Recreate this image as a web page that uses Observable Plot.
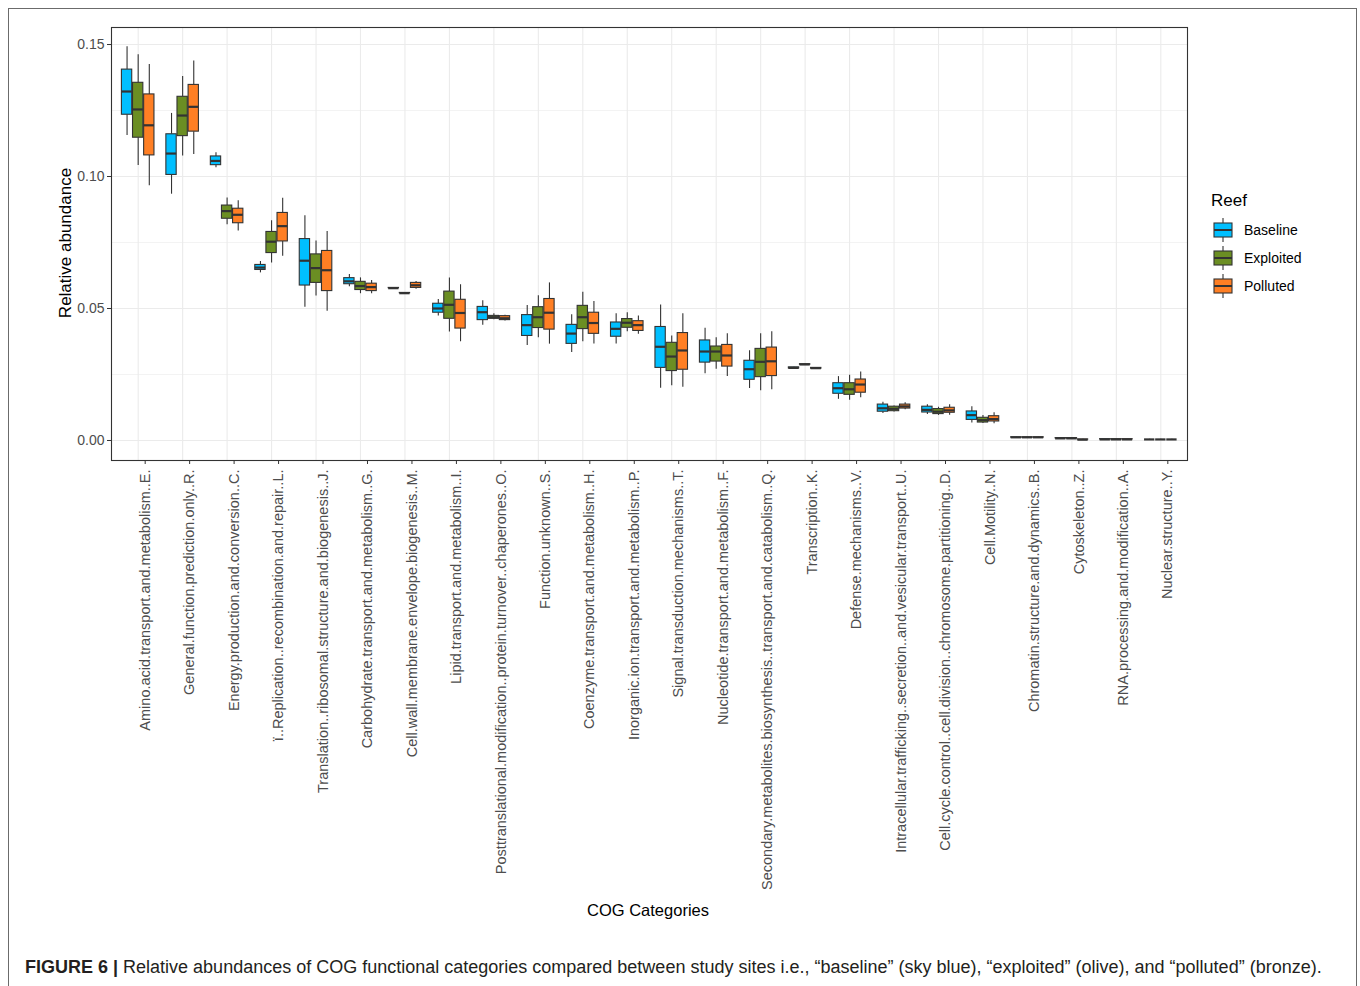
<!DOCTYPE html>
<html>
<head>
<meta charset="utf-8">
<script src="https://cdn.jsdelivr.net/npm/d3@7"></script>
<script src="https://cdn.jsdelivr.net/npm/@observablehq/plot@0.6"></script>
<style>
  body { margin: 0; background: #fff; font-family: "Liberation Sans", Arial, sans-serif; }
  #page { position: relative; width: 1360px; height: 986px; overflow: hidden; background: #fff; }
  #border { position: absolute; left: 8px; top: 8px; width: 1349px; height: 1200px; border: 1px solid #6b6b6b; box-sizing: border-box; }
  #chart { position: absolute; left: 0; top: 0; }
  .ylab { position: absolute; left: 66px; top: 243px; transform: translate(-50%, -50%) rotate(-90deg); white-space: nowrap; font-size: 17px; color: #000; }
  .xlab { position: absolute; left: 648px; top: 910px; transform: translate(-50%, -50%); white-space: nowrap; font-size: 16.5px; color: #000; }
  #legend { position: absolute; left: 1211px; top: 189px; }
  #legend .title { font-size: 17px; color: #000; height: 27px; line-height: 24px; }
  #legend .key { display: flex; align-items: center; height: 28px; }
  #legend .key svg { margin-left: 2px; margin-right: 11px; }
  #legend .key span { font-size: 14px; color: #000; }
  .caption { position: absolute; left: 25px; top: 957px; white-space: nowrap; font-size: 18px; color: #231f20; }
  .caption b { font-weight: bold; }
</style>
</head>
<body>
<div id="page">
  <div id="border"></div>
  <div id="chart"></div>
  <div class="ylab">Relative abundance</div>
  <div class="xlab">COG Categories</div>
  <div id="legend"></div>
  <div class="caption"><b>FIGURE 6 |</b> Relative abundances of COG functional categories compared between study sites i.e., “baseline” (sky blue), “exploited” (olive), and “polluted” (bronze).</div>
</div>
<script>
// COG functional categories, in plotting order
const categories = [
  "Amino.acid.transport.and.metabolism..E.",
  "General.function.prediction.only..R.",
  "Energy.production.and.conversion..C.",
  "ï..Replication..recombination.and.repair..L.",
  "Translation..ribosomal.structure.and.biogenesis..J.",
  "Carbohydrate.transport.and.metabolism..G.",
  "Cell.wall.membrane.envelope.biogenesis..M.",
  "Lipid.transport.and.metabolism..I.",
  "Posttranslational.modification..protein.turnover..chaperones..O.",
  "Function.unknown..S.",
  "Coenzyme.transport.and.metabolism..H.",
  "Inorganic.ion.transport.and.metabolism..P.",
  "Signal.transduction.mechanisms..T.",
  "Nucleotide.transport.and.metabolism..F.",
  "Secondary.metabolites.biosynthesis..transport.and.catabolism..Q.",
  "Transcription..K.",
  "Defense.mechanisms..V.",
  "Intracellular.trafficking..secretion..and.vesicular.transport..U.",
  "Cell.cycle.control..cell.division..chromosome.partitioning..D.",
  "Cell.Motility..N.",
  "Chromatin.structure.and.dynamics..B.",
  "Cytoskeleton..Z.",
  "RNA.processing.and.modification..A.",
  "Nuclear.structure..Y."
];

const reefs = ["Baseline", "Exploited", "Polluted"];
const reefColors = ["#00BFFF", "#6B8E23", "#FF7F24"];

// Box statistics per category: [lower whisker, Q1, median, Q3, upper whisker]
const baseline = [
  [0.1155, 0.1234, 0.1322, 0.1405, 0.1492],
  [0.0933, 0.1006, 0.1087, 0.1160, 0.1239],
  [0.1033, 0.1043, 0.1059, 0.1076, 0.1090],
  [0.0635, 0.0646, 0.0655, 0.0665, 0.0678],
  [0.0505, 0.0587, 0.0681, 0.0763, 0.0851],
  [0.0582, 0.0592, 0.0603, 0.0615, 0.0629],
  [0.0576, 0.0577, 0.0577, 0.0578, 0.0578],
  [0.0472, 0.0484, 0.0500, 0.0518, 0.0534],
  [0.0437, 0.0456, 0.0486, 0.0506, 0.0529],
  [0.0360, 0.0396, 0.0437, 0.0475, 0.0511],
  [0.0333, 0.0366, 0.0405, 0.0438, 0.0476],
  [0.0366, 0.0393, 0.0423, 0.0447, 0.0480],
  [0.0198, 0.0275, 0.0355, 0.0430, 0.0513],
  [0.0253, 0.0295, 0.0337, 0.0379, 0.0425],
  [0.0197, 0.0230, 0.0270, 0.0302, 0.0340],
  [0.0272, 0.0273, 0.0275, 0.0277, 0.0278],
  [0.0156, 0.0177, 0.0198, 0.0217, 0.0242],
  [0.0102, 0.0109, 0.0122, 0.0136, 0.0145],
  [0.0098, 0.0106, 0.0116, 0.0128, 0.0135],
  [0.0066, 0.0078, 0.0096, 0.0110, 0.0128],
  [0.0011, 0.0011, 0.0012, 0.0012, 0.0013],
  [0.0007, 0.0008, 0.0008, 0.0009, 0.0009],
  [0.0004, 0.0004, 0.0004, 0.0005, 0.0005],
  [0.0003, 0.0004, 0.0004, 0.0004, 0.0005]
];

const exploited = [
  [0.1042, 0.1147, 0.1254, 0.1355, 0.1461],
  [0.1078, 0.1153, 0.1231, 0.1302, 0.1379],
  [0.0817, 0.0840, 0.0869, 0.0890, 0.0919],
  [0.0672, 0.0710, 0.0753, 0.0790, 0.0832],
  [0.0547, 0.0597, 0.0653, 0.0705, 0.0756],
  [0.0556, 0.0570, 0.0585, 0.0601, 0.0616],
  [0.0557, 0.0558, 0.0558, 0.0559, 0.0559],
  [0.0411, 0.0461, 0.0514, 0.0564, 0.0616],
  [0.0457, 0.0461, 0.0467, 0.0472, 0.0480],
  [0.0389, 0.0426, 0.0467, 0.0505, 0.0548],
  [0.0374, 0.0422, 0.0467, 0.0510, 0.0562],
  [0.0412, 0.0427, 0.0446, 0.0460, 0.0484],
  [0.0207, 0.0263, 0.0318, 0.0370, 0.0396],
  [0.0270, 0.0299, 0.0337, 0.0356, 0.0389],
  [0.0188, 0.0240, 0.0298, 0.0347, 0.0404],
  [0.0286, 0.0287, 0.0288, 0.0289, 0.0290],
  [0.0152, 0.0173, 0.0194, 0.0217, 0.0247],
  [0.0108, 0.0111, 0.0120, 0.0128, 0.0131],
  [0.0095, 0.0100, 0.0109, 0.0119, 0.0126],
  [0.0064, 0.0068, 0.0077, 0.0086, 0.0095],
  [0.0011, 0.0011, 0.0012, 0.0012, 0.0013],
  [0.0006, 0.0007, 0.0008, 0.0009, 0.0010],
  [0.0004, 0.0004, 0.0004, 0.0005, 0.0005],
  [0.0003, 0.0004, 0.0004, 0.0004, 0.0005]
];

const polluted = [
  [0.0965, 0.1080, 0.1194, 0.1311, 0.1424],
  [0.1083, 0.1170, 0.1264, 0.1347, 0.1438],
  [0.0794, 0.0823, 0.0855, 0.0878, 0.0908],
  [0.0698, 0.0754, 0.0812, 0.0862, 0.0918],
  [0.0490, 0.0566, 0.0645, 0.0718, 0.0792],
  [0.0556, 0.0566, 0.0581, 0.0594, 0.0606],
  [0.0573, 0.0578, 0.0588, 0.0597, 0.0602],
  [0.0374, 0.0424, 0.0483, 0.0533, 0.0590],
  [0.0453, 0.0456, 0.0463, 0.0471, 0.0474],
  [0.0365, 0.0420, 0.0484, 0.0536, 0.0597],
  [0.0366, 0.0404, 0.0445, 0.0484, 0.0527],
  [0.0402, 0.0415, 0.0437, 0.0452, 0.0472],
  [0.0202, 0.0268, 0.0341, 0.0407, 0.0480],
  [0.0242, 0.0280, 0.0322, 0.0362, 0.0404],
  [0.0192, 0.0244, 0.0300, 0.0352, 0.0412],
  [0.0271, 0.0272, 0.0274, 0.0275, 0.0276],
  [0.0162, 0.0181, 0.0212, 0.0231, 0.0259],
  [0.0116, 0.0121, 0.0129, 0.0136, 0.0143],
  [0.0096, 0.0105, 0.0114, 0.0124, 0.0135],
  [0.0063, 0.0072, 0.0081, 0.0092, 0.0105],
  [0.0011, 0.0011, 0.0012, 0.0012, 0.0013],
  [0.0002, 0.0003, 0.0003, 0.0004, 0.0005],
  [0.0004, 0.0004, 0.0004, 0.0005, 0.0005],
  [0.0003, 0.0004, 0.0004, 0.0004, 0.0005]
];

const yTicks = [0, 0.05, 0.10, 0.15];
const yMinor = [0.025, 0.075, 0.125];

// Flatten into one row per category × reef, dodged within each category
const dodge = 0.25, halfBox = 0.116;
const series = [baseline, exploited, polluted];
const rows = [];
series.forEach((stats, r) => {
  stats.forEach(([lo, q1, med, q3, hi], i) => {
    const pos = i + 1 + (r - 1) * dodge;
    rows.push({reef: reefs[r], category: categories[i], pos, x1: pos - halfBox, x2: pos + halfBox, lo, q1, med, q3, hi});
  });
});

const catIndex = d3.range(1, categories.length + 1);
const ink = "#333333";
const grid = "#ebebeb";

const chart = Plot.plot({
  width: 1360,
  height: 900,
  marginTop: 27,
  marginLeft: 111,
  marginRight: 173,
  marginBottom: 440,
  style: {fontFamily: "'Liberation Sans', Arial, sans-serif", background: "transparent"},
  x: {domain: [0.4, categories.length + 0.6], axis: null},
  y: {domain: [-0.00758, 0.15645], axis: null},
  color: {domain: reefs, range: reefColors},
  marks: [
    // panel grid
    Plot.ruleY(yMinor, {stroke: grid, strokeWidth: 0.6}),
    Plot.ruleY(yTicks, {stroke: grid, strokeWidth: 1.1}),
    Plot.ruleX(catIndex, {stroke: grid, strokeWidth: 1.1}),
    // whiskers
    Plot.ruleX(rows, {x: "pos", y1: "lo", y2: "q1", stroke: ink, strokeWidth: 1.1}),
    Plot.ruleX(rows, {x: "pos", y1: "q3", y2: "hi", stroke: ink, strokeWidth: 1.1}),
    // boxes
    Plot.rect(rows, {x1: "x1", x2: "x2", y1: "q1", y2: "q3", fill: "reef", stroke: ink, strokeWidth: 1.1}),
    // medians
    Plot.ruleY(rows, {y: "med", x1: "x1", x2: "x2", stroke: ink, strokeWidth: 2.2}),
    // panel border
    Plot.frame({stroke: ink, strokeWidth: 1.1}),
    // axes
    Plot.axisY(yTicks, {tickFormat: d3.format(".2f"), tickSize: 4, tickPadding: 3, fontSize: 14, stroke: ink, fill: "#4d4d4d", label: null}),
    Plot.axisX(catIndex, {tickFormat: (i) => categories[i - 1], tickRotate: -90, tickSize: 4, tickPadding: 5, fontSize: 14.5, stroke: ink, fill: "#4d4d4d", label: null, dx: 7})
  ]
});
document.getElementById("chart").appendChild(chart);

// Legend: key glyphs mirror the box mark
const legend = document.getElementById("legend");
legend.innerHTML = `<div class="title">Reef</div>` + reefs.map((name, r) => `
  <div class="key">
    <svg width="20" height="26" viewBox="0 0 20 26">
      <line x1="10" x2="10" y1="1" y2="25" stroke="${ink}" stroke-width="1.1"/>
      <rect x="1" y="6" width="18" height="14" fill="${reefColors[r]}" stroke="${ink}" stroke-width="1.1"/>
      <line x1="1" x2="19" y1="13" y2="13" stroke="${ink}" stroke-width="2"/>
    </svg>
    <span>${name}</span>
  </div>`).join("");
</script>
</body>
</html>
